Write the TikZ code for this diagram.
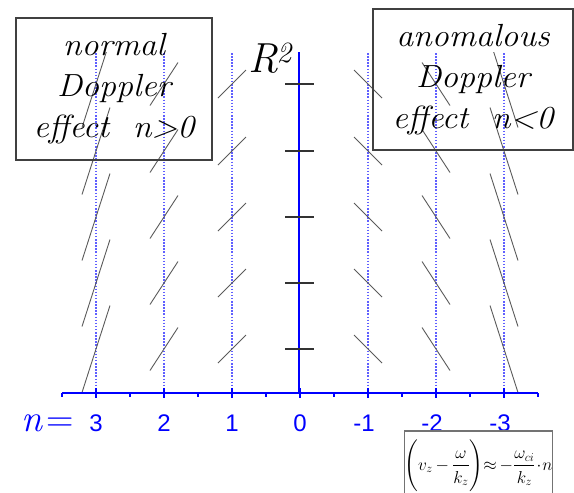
\documentclass[tikz,border=0pt]{standalone}
\usepackage{amsmath}
\usepackage{fontspec}
\setmainfont{Latin Modern Roman}
\newfontfamily\boxfont[FakeStretch=1.06]{Latin Modern Roman}
\newfontfamily\axisfont{Liberation Sans}
\usetikzlibrary{positioning}
\definecolor{axisblue}{RGB}{0,0,255}
\definecolor{gridblue}{RGB}{95,95,255}
\definecolor{seggray}{RGB}{90,90,90}
\definecolor{framegray}{RGB}{64,64,64}

\begin{document}
\begin{tikzpicture}[x=1pt, y=-1pt,
  labelbox/.style={draw=framegray, line width=1.3pt, align=center, inner sep=0pt, font=\boxfont\itshape\fontsize{32}{41}\selectfont},
  gridline/.style={gridblue, line width=1.6pt, dash pattern=on 1.5pt off 1.6pt},
  seg/.style={seggray, line width=0.9pt},
  axistick/.style={axisblue, line width=1.3pt},
  rtick/.style={black!80, line width=1.3pt},
  nlabel/.style={axisblue, inner sep=0pt, font=\axisfont\fontsize{24}{24}\selectfont}
]
\useasboundingbox (0,0) rectangle (574,493);
\clip (0,0) rectangle (574,493);

% dotted lines for n = +-1, +-2, +-3
\foreach \n in {1,2,3} {
  \draw[gridline] (300-68*\n,53) -- (300-68*\n,393);
  \draw[gridline] (300+68*\n,53) -- (300+68*\n,393);
}

% slanted segments
\begin{scope}
\clip (0,52) rectangle (574,393);
\foreach \n/\h in {1/14,2/21.5,3/43.5}
  \foreach \y in {84,151,217,283,349} {
    \draw[seg] (300-68*\n-14,\y+\h) -- (300-68*\n+14,\y-\h);
    \draw[seg] (300+68*\n-14,\y-\h) -- (300+68*\n+14,\y+\h);
  }
\end{scope}

% n axis
\draw[axisblue, line width=1.5pt] (62,393) -- (538,393);
\foreach \k in {-7,...,7}
  \draw[axistick] (300+34*\k,393) -- ++(0,4);
\foreach \n in {-3,...,3}
  \draw[axistick] (300-68*\n,388) -- ++(0,10);
\foreach \n/\t in {3/3,2/2,1/1,0/0,-1/\llap{-}1,-2/\llap{-}2,-3/\llap{-}3}
  \node[nlabel] (lab\n) at (300-68*\n,423) {\t};
\node[axisblue, inner sep=0pt, anchor=base west, font=\fontsize{38}{38}\selectfont] (nequals) at (21,431) {\textit{n}\kern4pt=};

% R^2 axis
\draw[axisblue, line width=2.6pt] (299,52) -- (299,394);
\foreach \y in {84,151,217,283,349}
  \draw[rtick] (285,\y) -- (314,\y);
\node[inner sep=0pt, anchor=base west, font=\fontsize{42}{42}\selectfont\itshape] (rsq) at (248,72) {R\kern-1.5pt\textsuperscript{2}};

% boxes
\node[labelbox, minimum width=196pt, minimum height=142pt] (normal) at (114,89) {normal\\Doppler\\effect\ \ n>0};
\node[labelbox, minimum width=200pt, minimum height=141pt] (anomal) at (473,79.5) {anomalous\\Doppler\\effect\ \ n<0};

\node[draw=black!55, line width=1.6pt, anchor=north, minimum width=143pt, minimum height=70pt, inner sep=0pt, font=\fontsize{18}{20}\selectfont] (formula) at (478.5,430)
  {$\left(\rule[-20pt]{0pt}{45pt}v_z\,{-}\,\dfrac{\omega\rule[-4pt]{0pt}{0pt}}{k_z\rule{0pt}{15pt}}\right)\!{\approx}\,{-}\dfrac{\omega_{ci}\rule[-4pt]{0pt}{0pt}}{k_z\rule{0pt}{15pt}}\!\cdot\! n$};
\end{tikzpicture}
\end{document}
